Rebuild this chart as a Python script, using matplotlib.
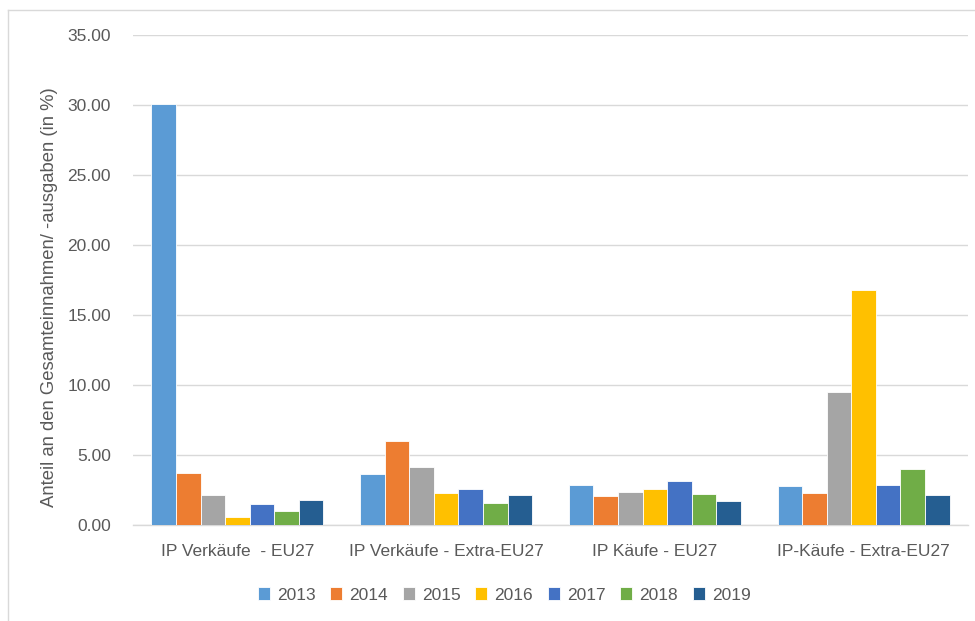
import matplotlib
matplotlib.use('Agg')
import matplotlib.pyplot as plt
import numpy as np
from matplotlib.lines import Line2D

plt.rcParams['font.family'] = ['Liberation Sans', 'DejaVu Sans']

categories = ['IP Verkäufe  - EU27', 'IP Verkäufe - Extra-EU27', 'IP Käufe - EU27', 'IP-Käufe - Extra-EU27']
years = ['2013', '2014', '2015', '2016', '2017', '2018', '2019']
values = {
  '2013': [30.10, 3.64, 2.83, 2.79],
  '2014': [3.69, 6.00, 2.05, 2.29],
  '2015': [2.12, 4.17, 2.33, 9.50],
  '2016': [0.57, 2.29, 2.57, 16.76],
  '2017': [1.52, 2.55, 3.17, 2.83],
  '2018': [1.02, 1.55, 2.19, 4.00],
  '2019': [1.79, 2.12, 1.74, 2.12],
}
colors = ['#5B9BD5', '#ED7D31', '#A5A5A5', '#FFC000', '#4472C4', '#70AD47', '#255E91']
y_ticks = [0, 5, 10, 15, 20, 25, 30, 35]

text_color = '#595959'
grid_color = '#D9D9D9'

fig = plt.figure(figsize=(9.75, 6.21), dpi=100)
ax = fig.add_axes([133 / 975, 1 - 525 / 621, 835 / 975, 490 / 621])

# chart border (left and top visible)
fig.add_artist(Line2D([8 / 975, 8 / 975], [0, 1 - 10 / 621], color=grid_color, lw=1, transform=fig.transFigure))
fig.add_artist(Line2D([8 / 975, 1], [1 - 10 / 621, 1 - 10 / 621], color=grid_color, lw=1, transform=fig.transFigure))

x = np.arange(len(categories))
n = len(years)
group_w = 1 / (1 + 1.5 / n)
bar_w = group_w / n
for i, year in enumerate(years):
  offs = (i - (n - 1) / 2) * bar_w
  ax.bar(x + offs, values[year], width=bar_w, color=colors[i], label=year,
         edgecolor='white', linewidth=0.6, zorder=3)

ax.set_xlim(-0.5, len(categories) - 0.5)
ax.set_ylim(0, 35)
ax.set_yticks(y_ticks)
ax.set_yticklabels(['%.2f' % t for t in y_ticks])
ax.set_xticks(x)
ax.set_xticklabels(categories)
ax.tick_params(axis='both', length=0, labelsize=12.5, colors=text_color)
ax.tick_params(axis='y', pad=16)
ax.tick_params(axis='x', pad=14)

ax.grid(axis='y', color=grid_color, linewidth=1, zorder=0)
for s in ['top', 'right', 'left']:
  ax.spines[s].set_visible(False)
ax.spines['bottom'].set_color(grid_color)
ax.spines['bottom'].set_linewidth(1)

fig.text(50 / 975, 1 - 297 / 621, 'Anteil an den Gesamteinnahmen/ -ausgaben (in %)',
         rotation=90, ha='center', va='center', fontsize=13.3, color=text_color)

leg = fig.legend(loc='center', bbox_to_anchor=(504 / 975, 1 - 595 / 621), ncol=n, frameon=False,
                 fontsize=12.5, handlelength=0.7, handleheight=0.7, handletextpad=0.4, columnspacing=0.85)
for t in leg.get_texts():
  t.set_color(text_color)

fig.savefig('out.png', dpi=100)
